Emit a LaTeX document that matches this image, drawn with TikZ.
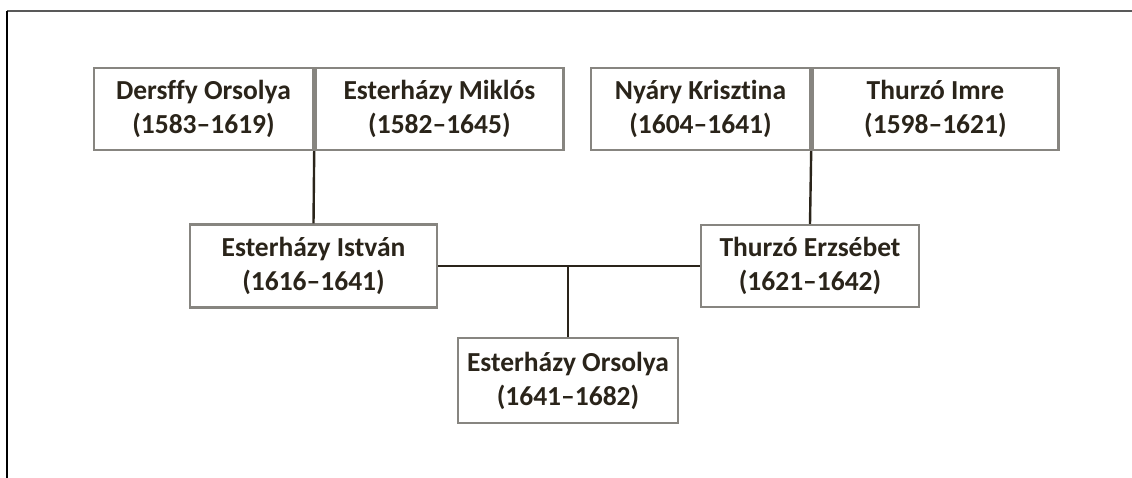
\documentclass[tikz,border=0pt]{standalone}
\usepackage{fontspec}
\setmainfont{Carlito}[Ligatures={NoCommon,TeX}]
\usetikzlibrary{positioning}
\definecolor{boxgray}{RGB}{135,133,128}
\definecolor{inkbrown}{RGB}{42,36,26}
\tikzset{
	person/.style={draw=boxgray, line width=2.4pt, inner sep=0pt, align=center,
		text=inkbrown, font=\fontsize{27.5}{34}\selectfont\bfseries},
	link/.style={draw=inkbrown, line width=2.4pt}
}

\begin{document}
\begin{tikzpicture}[x=1pt, y=-1pt]
	\useasboundingbox (0,0) rectangle (1132,478);

	%frame, only top and left side visible
	\draw[black!65, line width=1.8pt] (7,11) -- (1132,11);
	\draw[black, line width=2pt] (7,11) -- (7,478);

	%grandparents, two pairs of boxes side by side
	\node[person, minimum width=219pt, minimum height=82pt] (DO) at (203.5,109) {Dersffy Orsolya\\(1583--1619)}; %DO = Dersffy Orsolya
	\node[person, minimum width=248pt, minimum height=82pt, right=0pt of DO] (EM) {Esterházy Miklós\\(1582--1645)}; %EM = Esterhazy Miklos
	\node[person, minimum width=219pt, minimum height=82pt] (NK) at (700.5,109) {Nyáry Krisztina\\(1604--1641)}; %NK = Nyary Krisztina
	\node[person, minimum width=246pt, minimum height=82pt, right=0pt of NK] (TI) {Thurzó Imre\\(1598--1621)}; %TI = Thurzo Imre

	%parents
	\node[person, minimum width=247pt, minimum height=83pt] (EI) at (313.5,266) {Esterházy István\\(1616--1641)}; %EI = Esterhazy Istvan
	\node[person, minimum width=218pt, minimum height=82pt] (TE) at (810,266) {Thurzó Erzsébet\\(1621--1642)}; %TE = Thurzo Erzsebet

	%child
	\node[person, minimum width=220pt, minimum height=85pt] (EO) at (568,380.5) {Esterházy Orsolya\\(1641--1682)}; %EO = Esterhazy Orsolya

	%descent lines
	\coordinate (mid) at (EI.east -| EO.north);
	\draw[link] (DO.south east) -- (EI.north);
	\draw[link] (NK.south east) -- (TE.north);
	\draw[link] (EI.east) -- (TE.west);
	\draw[link] (mid) -- (EO.north);

\end{tikzpicture}
\end{document}
